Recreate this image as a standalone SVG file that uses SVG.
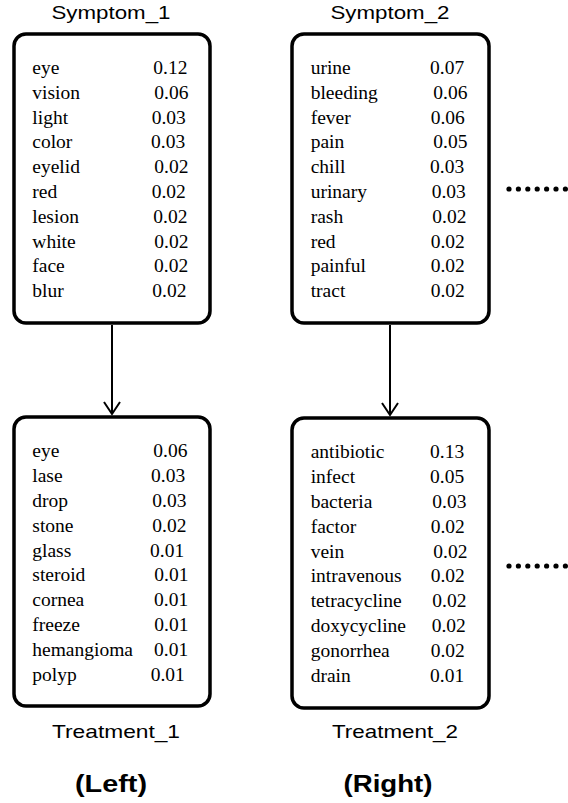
<svg xmlns="http://www.w3.org/2000/svg" width="568" height="803" viewBox="0 0 568 803">
<style>
.bg{fill:#fff}
.box{fill:#fff;stroke:#000;stroke-width:3.5}
.w{font-family:"Liberation Serif","Times New Roman",serif;font-size:19.5px;fill:#000}
.lab{font-family:"Liberation Sans",Arial,sans-serif;font-size:18.5px;fill:#000}
.cap{font-family:"Liberation Sans",Arial,sans-serif;font-size:24.5px;font-weight:bold;fill:#000}
.conn{stroke:#000;stroke-width:2;fill:none}
.dot{fill:#000}
</style>
<defs>
<marker id="chev" markerUnits="userSpaceOnUse" markerWidth="20" markerHeight="20" viewBox="-14 -10 16 20" refX="0" refY="0" orient="auto">
<path d="M-12,-8 L0,0 L-12,8" fill="none" stroke="#000" stroke-width="2"/>
</marker>
</defs>
<rect class="bg" width="568" height="803"/>

<g id="symptom1">
<text class="lab" x="111" y="18.5" text-anchor="middle" textLength="119" lengthAdjust="spacingAndGlyphs">Symptom_1</text>
<rect class="box" x="14" y="34" width="196" height="289" rx="12"/>
<g class="w">
<text x="32.3" y="74">eye</text><text x="153.3" y="74">0.12</text>
<text x="32.3" y="98.8">vision</text><text x="154.3" y="98.8">0.06</text>
<text x="32.3" y="123.6">light</text><text x="151.7" y="123.6">0.03</text>
<text x="32.3" y="148.4">color</text><text x="151" y="148.4">0.03</text>
<text x="32.3" y="173.2">eyelid</text><text x="154.3" y="173.2">0.02</text>
<text x="32.3" y="198">red</text><text x="151.7" y="198">0.02</text>
<text x="32.3" y="222.8">lesion</text><text x="153.3" y="222.8">0.02</text>
<text x="32.3" y="247.6">white</text><text x="154.3" y="247.6">0.02</text>
<text x="32.3" y="272.4">face</text><text x="154" y="272.4">0.02</text>
<text x="32.3" y="297.2">blur</text><text x="152.3" y="297.2">0.02</text>
</g>
</g>

<g id="symptom2">
<text class="lab" x="390" y="18.5" text-anchor="middle" textLength="119" lengthAdjust="spacingAndGlyphs">Symptom_2</text>
<rect class="box" x="292" y="34" width="197" height="289" rx="12"/>
<g class="w">
<text x="310.7" y="74">urine</text><text x="430" y="74">0.07</text>
<text x="310.7" y="98.8">bleeding</text><text x="433.3" y="98.8">0.06</text>
<text x="310.7" y="123.6">fever</text><text x="430.7" y="123.6">0.06</text>
<text x="310.7" y="148.4">pain</text><text x="433.3" y="148.4">0.05</text>
<text x="310.7" y="173.2">chill</text><text x="430" y="173.2">0.03</text>
<text x="310.7" y="198">urinary</text><text x="431.7" y="198">0.03</text>
<text x="310.7" y="222.8">rash</text><text x="432.3" y="222.8">0.02</text>
<text x="310.7" y="247.6">red</text><text x="430.7" y="247.6">0.02</text>
<text x="310.7" y="272.4">painful</text><text x="430.7" y="272.4">0.02</text>
<text x="310.7" y="297.2">tract</text><text x="430.7" y="297.2">0.02</text>
</g>
</g>

<g id="treatment1">
<rect class="box" x="14" y="417" width="196" height="289" rx="12"/>
<g class="w">
<text x="32.3" y="457.3">eye</text><text x="153.3" y="457.3">0.06</text>
<text x="32.3" y="482.1">lase</text><text x="151" y="482.1">0.03</text>
<text x="32.3" y="506.9">drop</text><text x="152.3" y="506.9">0.03</text>
<text x="32.3" y="531.7">stone</text><text x="152.3" y="531.7">0.02</text>
<text x="32.3" y="556.5">glass</text><text x="150" y="556.5">0.01</text>
<text x="32.3" y="581.3">steroid</text><text x="154.3" y="581.3">0.01</text>
<text x="32.3" y="606.1">cornea</text><text x="154" y="606.1">0.01</text>
<text x="32.3" y="630.9">freeze</text><text x="154.3" y="630.9">0.01</text>
<text x="32.3" y="655.7">hemangioma</text><text x="154" y="655.7">0.01</text>
<text x="32.3" y="680.5">polyp</text><text x="150.7" y="680.5">0.01</text>
</g>
<text class="lab" x="116" y="738.3" text-anchor="middle" textLength="128" lengthAdjust="spacingAndGlyphs">Treatment_1</text>
</g>

<g id="treatment2">
<rect class="box" x="292" y="418" width="197" height="290" rx="12"/>
<g class="w">
<text x="310.7" y="458.3">antibiotic</text><text x="430" y="458.3">0.13</text>
<text x="310.7" y="483.1">infect</text><text x="430" y="483.1">0.05</text>
<text x="310.7" y="507.9">bacteria</text><text x="432.3" y="507.9">0.03</text>
<text x="310.7" y="532.7">factor</text><text x="430.7" y="532.7">0.02</text>
<text x="310.7" y="557.5">vein</text><text x="433.3" y="557.5">0.02</text>
<text x="310.7" y="582.3">intravenous</text><text x="430.7" y="582.3">0.02</text>
<text x="310.7" y="607.1">tetracycline</text><text x="432.3" y="607.1">0.02</text>
<text x="310.7" y="631.9">doxycycline</text><text x="431.7" y="631.9">0.02</text>
<text x="310.7" y="656.7">gonorrhea</text><text x="430.7" y="656.7">0.02</text>
<text x="310.7" y="681.5">drain</text><text x="430" y="681.5">0.01</text>
</g>
<text class="lab" x="395" y="738.3" text-anchor="middle" textLength="126" lengthAdjust="spacingAndGlyphs">Treatment_2</text>
</g>

<g id="connectors">
<line class="conn" x1="112" y1="325" x2="112" y2="414" marker-end="url(#chev)"/>
<line class="conn" x1="390" y1="325" x2="390" y2="415" marker-end="url(#chev)"/>
</g>

<g id="ellipsis-top">
<circle class="dot" cx="509" cy="189" r="2.6"/><circle class="dot" cx="518.4" cy="189" r="2.6"/><circle class="dot" cx="527.8" cy="189" r="2.6"/><circle class="dot" cx="537.2" cy="189" r="2.6"/><circle class="dot" cx="546.6" cy="189" r="2.6"/><circle class="dot" cx="556" cy="189" r="2.6"/><circle class="dot" cx="565.4" cy="189" r="2.6"/>
</g>
<g id="ellipsis-bottom">
<circle class="dot" cx="509" cy="566" r="2.6"/><circle class="dot" cx="518.4" cy="566" r="2.6"/><circle class="dot" cx="527.8" cy="566" r="2.6"/><circle class="dot" cx="537.2" cy="566" r="2.6"/><circle class="dot" cx="546.6" cy="566" r="2.6"/><circle class="dot" cx="556" cy="566" r="2.6"/><circle class="dot" cx="565.4" cy="566" r="2.6"/>
</g>

<text class="cap" x="111" y="791.7" text-anchor="middle" textLength="72" lengthAdjust="spacingAndGlyphs">(Left)</text>
<text class="cap" x="388" y="791.7" text-anchor="middle" textLength="89" lengthAdjust="spacingAndGlyphs">(Right)</text>
</svg>
